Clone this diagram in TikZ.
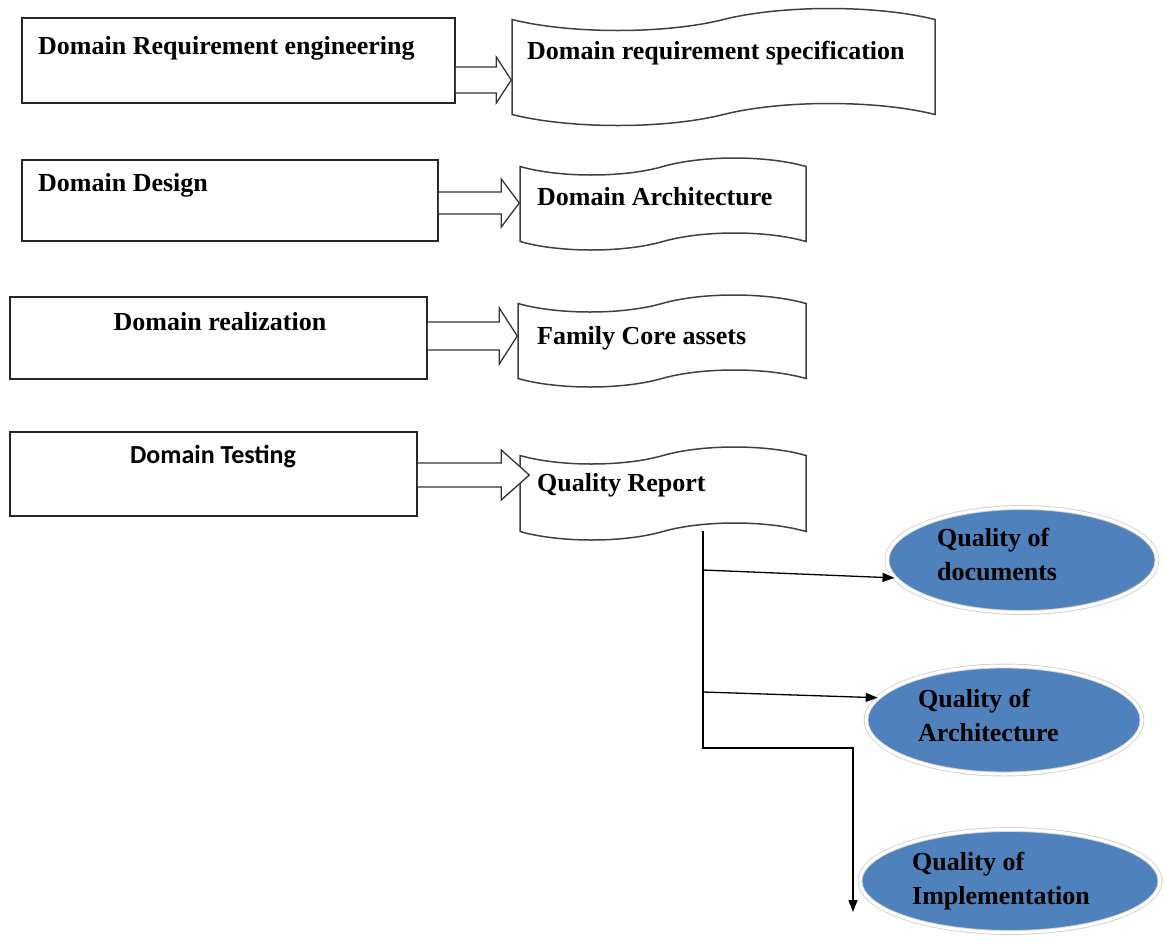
\documentclass[tikz,border=0pt]{standalone}
\usepackage{fontspec}
\setmainfont{Liberation Serif}
\newfontfamily\calibrifont{Carlito}
\usetikzlibrary{arrows.meta,shapes.geometric,shapes.symbols}
\definecolor{qblue}{HTML}{4F81BD}

\tikzset{
  txt/.style={inner sep=0pt, font=\fontsize{26}{34}\selectfont\bfseries},
  stagebox/.style={draw=black!85, line width=1.5pt, inner sep=0pt},
  docshape/.style={tape, draw=black!75, line width=1.5pt, fill=white, inner sep=0pt, tape bend height=17pt},
  qual/.style={ellipse, fill=qblue, draw=black!18, double=white, double distance=3pt, line width=0.9pt, inner sep=0pt},
  link/.style={draw=black, line width=1.3pt},
  fatarrow/.style args={#1/#2/#3}{draw=black!80, line width=1.3pt, fill=white,
    to path={([yshift=#1]\tikztostart) -- ([xshift=-#3,yshift=#1]\tikztotarget)
      -- ([xshift=-#3,yshift=#2]\tikztotarget) -- (\tikztotarget)
      -- ([xshift=-#3,yshift=-#2]\tikztotarget) -- ([xshift=-#3,yshift=-#1]\tikztotarget)
      -- ([yshift=-#1]\tikztostart)}}
}

\begin{document}
\begin{tikzpicture}[x=1pt, y=1pt, >={Triangle[length=12pt,width=9pt]}]
\useasboundingbox (0,0) rectangle (1165,-943);

% domain engineering steps
\node[stagebox, minimum width=433pt, minimum height=85pt] (req) at (238.5,-60.5) {};
\node[stagebox, minimum width=416pt, minimum height=81pt] (des) at (230,-200.5) {};
\node[stagebox, minimum width=417pt, minimum height=82pt] (rea) at (218.5,-338) {};
\node[stagebox, minimum width=407pt, minimum height=84pt] (tst) at (213.5,-474) {};
\node[txt, anchor=base west] (reqtxt) at (38,-54) {Domain Requirement engineering};
\node[txt, anchor=base west] (destxt) at (38,-191) {Domain Design};
\node[txt, anchor=base] (reatxt) at (220,-330) {Domain realization};
\node[txt, anchor=base, font=\fontsize{26}{34}\selectfont\calibrifont\bfseries] (tsttxt) at (213,-463) {Domain Testing};

% outputs
\node[docshape, minimum width=423pt, minimum height=117pt, tape bend height=22pt] (doc1) at (723.5,-67) {};
\node[docshape, minimum width=286pt, minimum height=92pt] (doc2) at (663,-204) {};
\node[docshape, minimum width=288pt, minimum height=92pt] (doc3) at (662,-341) {};
\node[docshape, minimum width=286pt, minimum height=93pt] (doc4) at (663,-493.5) {};
\node[txt, anchor=base west] (doc1txt) at (527,-59) {Domain requirement specification};
\node[txt, anchor=base west] (doc2txt) at (537,-205) {Domain Architecture};
\node[txt, anchor=base west] (doc3txt) at (537,-344) {Family Core assets};
\node[txt, anchor=base west] (doc4txt) at (537,-491) {Quality Report};

% block arrows
\path (0,-80) coordinate (r1) (0,-203) coordinate (r2) (0,-336) coordinate (r3) (0,-475) coordinate (r4);
\coordinate (a4tip) at ([xshift=10pt]doc4.west |- r4);
\draw[fatarrow=13pt/23pt/15pt] (req.east |- r1) to (doc1.west |- r1);
\draw[fatarrow=11pt/24pt/18pt] (des.east |- r2) to (doc2.west |- r2);
\draw[fatarrow=14pt/28pt/18pt] (rea.east |- r3) to (doc3.west |- r3);
\draw[fatarrow=12pt/25pt/28pt] (tst.east |- r4) to (a4tip);

% quality of the report
\node[qual, minimum width=270pt, minimum height=105pt] (ell1) at (1022,-560) {};
\node[qual, minimum width=276pt, minimum height=108pt] (ell2) at (1004,-720) {};
\node[qual, minimum width=300pt, minimum height=103pt] (ell3) at (1010,-881) {};
\node[txt, anchor=north west, align=left] (ell1txt) at (937,-528) {Quality of\\documents};
\node[txt, anchor=north west, align=left] (ell2txt) at (918,-689) {Quality of\\Architecture};
\node[txt, anchor=north west, align=left] (ell3txt) at (912,-852) {Quality of\\Implementation};

\coordinate (qtop) at (703,-531);
\coordinate (q1) at (703,-570);
\coordinate (q2) at (703,-692);
\coordinate (qbend) at (703,-748);
\coordinate (qend) at (853,-912);
\draw[link, ->] (qtop) -- (qbend) -| (qend);
\draw[link, ->] (q1) -- (ell1.188);
\draw[link, ->] (q2) -- (ell2.170);
\end{tikzpicture}
\end{document}
